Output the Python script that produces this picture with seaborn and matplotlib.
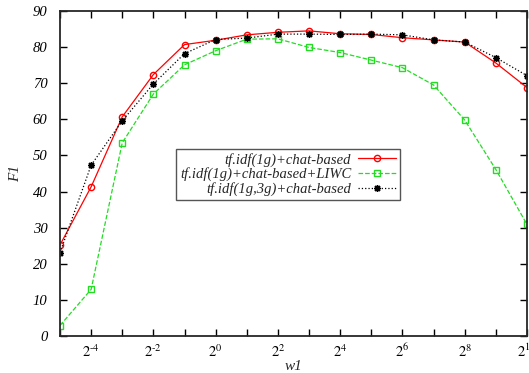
import numpy as np
import pandas as pd
import seaborn as sns
import matplotlib.pyplot as plt

# data
powers = list(range(-5, 11))
f1_chat = [25.2, 41.3, 60.7, 72.4, 80.7, 81.9, 83.4, 84.1, 84.5, 83.7, 83.5, 82.6, 82.0, 81.4, 75.6, 68.8]
f1_liwc = [2.9, 12.9, 53.5, 67.0, 75.1, 79.0, 82.2, 82.3, 79.9, 78.5, 76.4, 74.3, 69.5, 59.8, 46.1, 30.9]
f1_3g = [23.1, 47.3, 59.6, 69.8, 78.2, 82.1, 82.5, 83.6, 83.6, 83.5, 83.6, 83.4, 82.0, 81.4, 77.1, 72.1]
labels = ["tf.idf(1g)+chat-based", "tf.idf(1g)+chat-based+LIWC", "tf.idf(1g,3g)+chat-based"]

sns.set_style("ticks")
plt.rcParams['font.family'] = ['Liberation Serif', 'DejaVu Serif']
plt.rcParams['mathtext.fontset'] = 'stix'

df = pd.DataFrame({"w1": [2.0 ** p for p in powers] * 3,
                   "F1": f1_chat + f1_liwc + f1_3g,
                   "run": [labels[0]] * 16 + [labels[1]] * 16 + [labels[2]] * 16})

fig = plt.figure(figsize=(5.29, 3.73), dpi=100)
ax = fig.add_axes([0.1134, 0.0992, 0.8828, 0.8713])

styles = [dict(color="#ff0000", ls="-", marker="o", ms=4.5),
          dict(color="#22dd22", ls="--", marker="s", ms=4.5),
          dict(color="black", ls=":", marker=(8, 2, 0), ms=5)]
for lab, st in zip(labels, styles):
    sns.lineplot(data=df[df.run == lab], x="w1", y="F1", ax=ax, label=lab,
                 color=st["color"], ls=st["ls"], lw=0.9)
    line = ax.lines[-1]
    line.set_marker(st["marker"])
    line.set_markersize(st["ms"])
    line.set_markerfacecolor("none")
    line.set_markeredgecolor(st["color"])
    line.set_markeredgewidth(1.0)

ax.set_xscale("log", base=2)
ax.set_xlim(2.0 ** -5, 2.0 ** 10)
ax.set_ylim(0, 90)
ax.set_xticks([2.0 ** p for p in powers])
ax.set_xticklabels([(r"$2^{\text{-}%d}$" % -p if p < 0 else r"$2^{%d}$" % p) if p % 2 == 0 else ""
                    for p in powers])
ax.minorticks_off()
ax.set_yticks(range(0, 91, 10))
ax.tick_params(direction="in", top=True, right=True, length=5, width=1, labelsize=10.5, colors="black")
ax.tick_params(axis="y", pad=9)
ax.tick_params(axis="x", pad=5)
for t in ax.get_yticklabels():
    t.set_fontstyle("italic")
for s in ax.spines.values():
    s.set_linewidth(1.3)
ax.set_xlabel("w1", fontstyle="italic", fontsize=11, labelpad=0)
ax.set_ylabel("F1", fontstyle="italic", fontsize=11, labelpad=8)

leg = ax.legend(loc="upper right", bbox_to_anchor=(0.728, 0.575), borderaxespad=0,
                markerfirst=False, fancybox=False, edgecolor="#555555", framealpha=1,
                handlelength=2.6, borderpad=0.25, labelspacing=0.05, handletextpad=0.5,
                prop={"family": "Liberation Serif", "style": "italic", "size": 10.5})
leg.get_frame().set_linewidth(1.0)
for vp in leg._legend_handle_box.get_children():
    vp.align = "right"

fig.savefig("out.png", dpi=100)
